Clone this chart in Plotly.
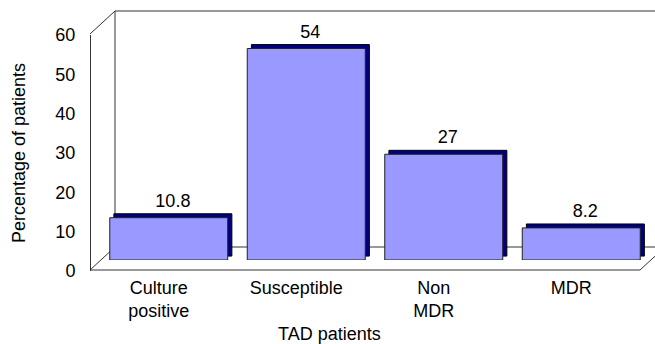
import plotly.graph_objects as go

categories = ["Culture<br>positive", "Susceptible", "Non<br>MDR", "MDR"]
values = [10.8, 54, 27, 8.2]
value_labels = ["10.8", "54", "27", "8.2"]
y_ticks = [0, 10, 20, 30, 40, 50, 60]

W, H = 655, 344
def px(x):
    return x / W
def py(y):
    return 1 - y / H

FONT = "Liberation Sans, Arial, sans-serif"
FS = 18
FRONT = "#9999FF"
SIDE = "#000080"
EDGE = "#333333"

bar_w = 0.858
depth_x = 0.03   # horizontal depth in category units
depth_y = 1.0    # vertical depth in value units

fig = go.Figure()
# depth (back) face
fig.add_trace(go.Bar(
    x=categories, y=values, base=[depth_y] * len(values),
    width=bar_w, offset=-bar_w / 2 + depth_x,
    marker=dict(color=SIDE, line=dict(color="#000000", width=1)),
    text=value_labels, textposition="outside", cliponaxis=False,
    constraintext="none",
    textfont=dict(family=FONT, size=FS, color="#000000"),
    hoverinfo="skip", showlegend=False,
))
# front face
fig.add_trace(go.Bar(
    x=categories, y=values,
    width=bar_w, offset=-bar_w / 2,
    marker=dict(color=FRONT, line=dict(color="#222222", width=1)),
    showlegend=False,
))
# helper trace for the label/tick axes
fig.add_trace(go.Scatter(
    x=categories, y=[None] * len(categories), xaxis="x2", yaxis="y2",
    mode="markers", showlegend=False, hoverinfo="skip",
))

lines = [
    ((115, 11), (655, 11)),
    ((115, 11), (115, 247)),
    ((115, 247), (660, 247)),
    ((90, 34), (115, 11)),
    ((90, 270), (115, 247)),
    ((90, 270), (640, 270)),
    ((640, 270), (665, 247)),
]
shapes = [dict(type="line", xref="paper", yref="paper",
               x0=px(a[0]), y0=py(a[1]), x1=px(b[0]), y1=py(b[1]),
               line=dict(color=EDGE, width=1), layer="below")
          for a, b in lines]

fig.update_layout(
    width=W, height=H,
    margin=dict(l=0, r=0, t=0, b=0),
    paper_bgcolor="white", plot_bgcolor="rgba(0,0,0,0)",
    barmode="overlay",
    font=dict(family=FONT, size=FS, color="#000000"),
    shapes=shapes,
    xaxis=dict(domain=[px(100), px(650)], range=[-0.5, 3.5],
               showticklabels=False, showgrid=False, zeroline=False,
               showline=False, ticks="", anchor="y"),
    yaxis=dict(domain=[py(260), py(25)], range=[0, 60], visible=False,
               anchor="x"),
    xaxis2=dict(domain=[px(90), px(640)], range=[-0.5, 3.5],
                anchor="free", position=py(270),
                showgrid=False, zeroline=False, showline=False,
                ticks="outside", ticklen=1, tickcolor="rgba(0,0,0,0)",
                tickfont=dict(family=FONT, size=FS), automargin=False),
    yaxis2=dict(domain=[py(271), py(35)], range=[0, 60],
                tickvals=y_ticks,
                anchor="free", position=px(90),
                showgrid=False, zeroline=False,
                showline=True, linecolor=EDGE, linewidth=1,
                ticks="outside", ticklen=11, tickcolor="rgba(0,0,0,0)",
                tickfont=dict(family=FONT, size=FS),
                title=dict(text="Percentage of patients",
                           font=dict(family=FONT, size=FS), standoff=24),
                automargin=False),
    annotations=[dict(text="TAD patients", xref="paper", yref="paper",
                      x=px(330), y=py(334), showarrow=False,
                      font=dict(family=FONT, size=FS),
                      xanchor="center", yanchor="middle")],
)

fig.write_html("out.html",
               config={"displayModeBar": False},
               post_script="document.body.style.margin='0';document.body.style.overflow='hidden';")
